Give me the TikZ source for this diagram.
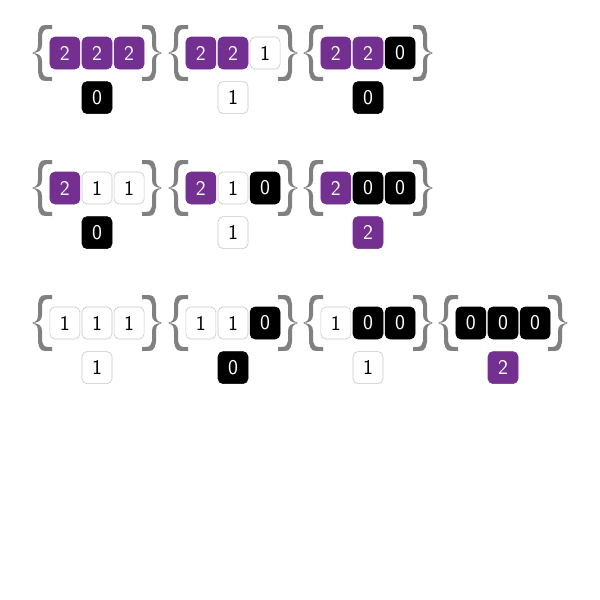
\documentclass[tikz,border=0pt]{standalone}
\usetikzlibrary{positioning}

\definecolor{plum}{RGB}{115,48,145}
% colours per digit: 2 purple, 1 white, 0 black
\colorlet{bg2}{plum}  \colorlet{fg2}{white} \colorlet{ln2}{plum}
\colorlet{bg1}{white} \colorlet{fg1}{black} \colorlet{ln1}{black!22}
\colorlet{bg0}{black} \colorlet{fg0}{white} \colorlet{ln0}{black}

\begin{document}
\begin{tikzpicture}[x=1pt, y=-1pt,
  cell/.style={rounded corners=5pt, minimum width=30pt, minimum height=32pt,
    inner sep=0pt, line width=0.6pt, font=\sffamily\fontsize{21}{22}\selectfont},
  brace/.style={fill=black!50, draw=none}]
  \useasboundingbox (0,0) rectangle (600,600);

  % one set: three cells on top, one below, in braces
  \foreach \n/\cx/\cy/\a/\b/\c/\d in {a/97/53/2/2/2/0, b/233/53/2/2/1/1,
      c/368/53/2/2/0/0, d/97/188/2/1/1/0, e/233/188/2/1/0/1, f/368/188/2/0/0/2,
      g/97/323/1/1/1/1, h/233/323/1/1/0/0, i/368/323/1/0/0/1, j/503/323/0/0/0/2}{
    \node[cell, fill=bg\b, draw=ln\b, text=fg\b] (\n2) at (\cx,\cy) {\b};
    \node[cell, fill=bg\a, draw=ln\a, text=fg\a, left=1.5pt of \n2] (\n1) {\a};
    \node[cell, fill=bg\c, draw=ln\c, text=fg\c, right=1.5pt of \n2] (\n3) {\c};
    \node[cell, fill=bg\d, draw=ln\d, text=fg\d, below=12pt of \n2] (\n4) {\d};

    % braces
    \foreach \s in {1,-1}{
      \fill[brace, shift={(\cx,\cy)}, xscale=\s]
        (-45,-28) .. controls (-57,-28) .. (-59,-19) -- (-59,-8)
        .. controls (-59,-2) and (-62,-0.5) .. (-65,0)
        .. controls (-62,0.5) and (-59,2) .. (-59,8) -- (-59,19)
        .. controls (-57,28) .. (-45,28) -- (-45,24)
        .. controls (-53,24) .. (-55,18) -- (-55,8)
        .. controls (-55,2) and (-59,0.3) .. (-65,0)
        .. controls (-59,-0.3) and (-55,-2) .. (-55,-8) -- (-55,-18)
        .. controls (-53,-24) .. (-45,-24) -- cycle;
    }
  }
\end{tikzpicture}
\end{document}
